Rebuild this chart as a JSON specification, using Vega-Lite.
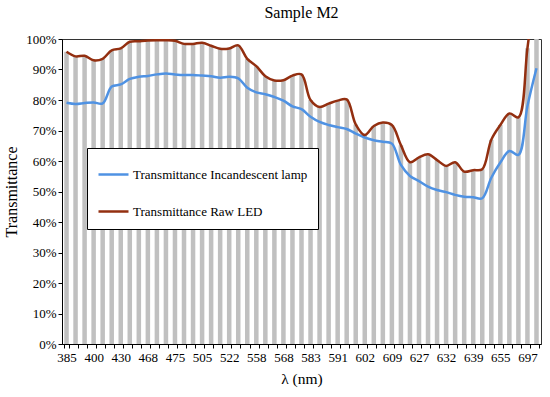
{
  "$schema": "https://vega.github.io/schema/vega-lite/v6.json",
  "width": 479,
  "height": 305,
  "autosize": {"type": "none"},
  "padding": {"left": 62, "top": 39, "right": 9, "bottom": 53},
  "background": "white",
  "config": {
    "font": "Liberation Serif, Times New Roman, serif",
    "view": {"stroke": "#333333", "strokeWidth": 1},
    "axis": {"labelFont": "Liberation Serif, Times New Roman, serif", "titleFont": "Liberation Serif, Times New Roman, serif"},
    "legend": {"labelFont": "Liberation Serif, Times New Roman, serif", "titleFont": "Liberation Serif, Times New Roman, serif"}
  },
  "title": {"text": "Sample M2", "fontSize": 16, "fontWeight": "normal", "font": "Liberation Serif, Times New Roman, serif", "color": "black", "offset": 12, "anchor": "middle"},
  "data": {
    "values": [
      {"nm": "385", "inc": 79.1, "raw": 95.8},
      {"nm": "390", "inc": 78.7, "raw": 94.3},
      {"nm": "395", "inc": 79.0, "raw": 94.5},
      {"nm": "400", "inc": 79.2, "raw": 93.0},
      {"nm": "410", "inc": 78.9, "raw": 93.5},
      {"nm": "420", "inc": 84.4, "raw": 96.3},
      {"nm": "430", "inc": 85.1, "raw": 96.9},
      {"nm": "443", "inc": 86.9, "raw": 99.1},
      {"nm": "455", "inc": 87.6, "raw": 99.3},
      {"nm": "468", "inc": 87.9, "raw": 99.5},
      {"nm": "470", "inc": 88.4, "raw": 99.6},
      {"nm": "472", "inc": 88.7, "raw": 99.6},
      {"nm": "475", "inc": 88.4, "raw": 99.4},
      {"nm": "485", "inc": 88.2, "raw": 98.4},
      {"nm": "495", "inc": 88.2, "raw": 98.4},
      {"nm": "505", "inc": 88.0, "raw": 98.8},
      {"nm": "511", "inc": 87.8, "raw": 97.8},
      {"nm": "517", "inc": 87.3, "raw": 96.8},
      {"nm": "522", "inc": 87.6, "raw": 96.9},
      {"nm": "534", "inc": 87.1, "raw": 97.9},
      {"nm": "546", "inc": 84.0, "raw": 93.5},
      {"nm": "558", "inc": 82.5, "raw": 91.1},
      {"nm": "561", "inc": 81.9, "raw": 87.8},
      {"nm": "565", "inc": 81.0, "raw": 86.4},
      {"nm": "568", "inc": 79.8, "raw": 86.5},
      {"nm": "573", "inc": 77.9, "raw": 88.0},
      {"nm": "578", "inc": 77.0, "raw": 88.4},
      {"nm": "583", "inc": 74.5, "raw": 80.0},
      {"nm": "586", "inc": 72.8, "raw": 77.7},
      {"nm": "588", "inc": 71.8, "raw": 78.8},
      {"nm": "591", "inc": 71.1, "raw": 79.8},
      {"nm": "595", "inc": 70.5, "raw": 80.2},
      {"nm": "598", "inc": 69.0, "raw": 72.0},
      {"nm": "602", "inc": 67.7, "raw": 68.5},
      {"nm": "604", "inc": 66.8, "raw": 71.5},
      {"nm": "607", "inc": 66.3, "raw": 72.6},
      {"nm": "609", "inc": 65.7, "raw": 71.8},
      {"nm": "615", "inc": 58.7, "raw": 65.2},
      {"nm": "621", "inc": 55.1, "raw": 59.6},
      {"nm": "627", "inc": 53.4, "raw": 61.2},
      {"nm": "629", "inc": 51.6, "raw": 62.2},
      {"nm": "630", "inc": 50.5, "raw": 60.3},
      {"nm": "632", "inc": 49.8, "raw": 58.4},
      {"nm": "634", "inc": 48.9, "raw": 59.6},
      {"nm": "637", "inc": 48.3, "raw": 56.5},
      {"nm": "639", "inc": 48.1, "raw": 57.0},
      {"nm": "644", "inc": 47.8, "raw": 57.3},
      {"nm": "650", "inc": 54.5, "raw": 67.0},
      {"nm": "655", "inc": 59.5, "raw": 71.8},
      {"nm": "669", "inc": 63.3, "raw": 75.6},
      {"nm": "683", "inc": 62.0, "raw": 74.3},
      {"nm": "697", "inc": 78.0, "raw": 97.0},
      {"nm": "705", "inc": 90.4, "raw": 120.0}
    ]
  },
  "encoding": {
    "x": {
      "field": "nm",
      "type": "ordinal",
      "sort": null,
      "scale": {"paddingInner": 0.5, "paddingOuter": 0.25},
      "axis": {
        "title": "λ (nm)",
        "titleFontSize": 15.5,
        "titleFontWeight": "normal",
        "titleColor": "black",
        "titlePadding": 7,
        "labelFontSize": 13,
        "labelColor": "black",
        "labelAngle": 0,
        "labelPadding": 3,
        "labelOverlap": false,
        "labelExpr": "indexof(['385','400','430','468','475','505','522','558','568','583','591','602','609','627','632','639','655','697'], datum.value) >= 0 ? datum.value : ''",
        "tickBand": "extent",
        "tickSize": 4,
        "tickColor": "black",
        "domainColor": "black"
      }
    }
  },
  "layer": [
    {
      "mark": {"type": "bar", "color": "#c0c0c0", "clip": true},
      "encoding": {
        "y": {
          "field": "raw",
          "type": "quantitative",
          "scale": {"domain": [0, 100], "nice": false},
          "axis": {
            "title": "Transmittance",
            "titleFontSize": 16,
            "titleFontWeight": "normal",
            "titleColor": "black",
            "titlePadding": 6,
            "labelFontSize": 13,
            "labelColor": "black",
            "labelPadding": 2,
            "labelOverlap": false,
            "values": [0, 10, 20, 30, 40, 50, 60, 70, 80, 90, 100],
            "labelExpr": "datum.value + '%'",
            "grid": false,
            "tickSize": 4,
            "tickColor": "black",
            "domainColor": "black"
          }
        }
      }
    },
    {
      "mark": {"type": "line", "interpolate": "catmull-rom", "strokeWidth": 2.5, "clip": true},
      "encoding": {
        "y": {
          "field": "inc",
          "type": "quantitative",
          "axis": {
            "title": "Transmittance",
            "titleFontSize": 16,
            "titleFontWeight": "normal",
            "titleColor": "black",
            "titlePadding": 6,
            "labelFontSize": 13,
            "labelColor": "black",
            "labelPadding": 2,
            "labelOverlap": false,
            "values": [0, 10, 20, 30, 40, 50, 60, 70, 80, 90, 100],
            "labelExpr": "datum.value + '%'",
            "grid": false,
            "tickSize": 4,
            "tickColor": "black",
            "domainColor": "black"
          }
        },
        "color": {
          "datum": "Transmittance Incandescent lamp",
          "type": "nominal",
          "scale": {"domain": ["Transmittance Incandescent lamp", "Transmittance Raw LED"], "range": ["#4f92e3", "#932f10"]},
          "legend": {
            "orient": "none",
            "legendX": 25,
            "legendY": 109,
            "title": null,
            "fillColor": "white",
            "strokeColor": "black",
            "padding": 10,
            "symbolType": "stroke",
            "symbolSize": 900,
            "symbolStrokeWidth": 2.5,
            "labelFontSize": 13,
            "labelColor": "black",
            "labelOffset": 3,
            "rowPadding": 13,
            "labelLimit": 300
          }
        }
      }
    },
    {
      "mark": {"type": "line", "interpolate": "catmull-rom", "strokeWidth": 2.5, "clip": true},
      "encoding": {
        "y": {
          "field": "raw",
          "type": "quantitative",
          "axis": {
            "title": "Transmittance",
            "titleFontSize": 16,
            "titleFontWeight": "normal",
            "titleColor": "black",
            "titlePadding": 6,
            "labelFontSize": 13,
            "labelColor": "black",
            "labelPadding": 2,
            "labelOverlap": false,
            "values": [0, 10, 20, 30, 40, 50, 60, 70, 80, 90, 100],
            "labelExpr": "datum.value + '%'",
            "grid": false,
            "tickSize": 4,
            "tickColor": "black",
            "domainColor": "black"
          }
        },
        "color": {"datum": "Transmittance Raw LED", "type": "nominal"}
      }
    }
  ]
}
